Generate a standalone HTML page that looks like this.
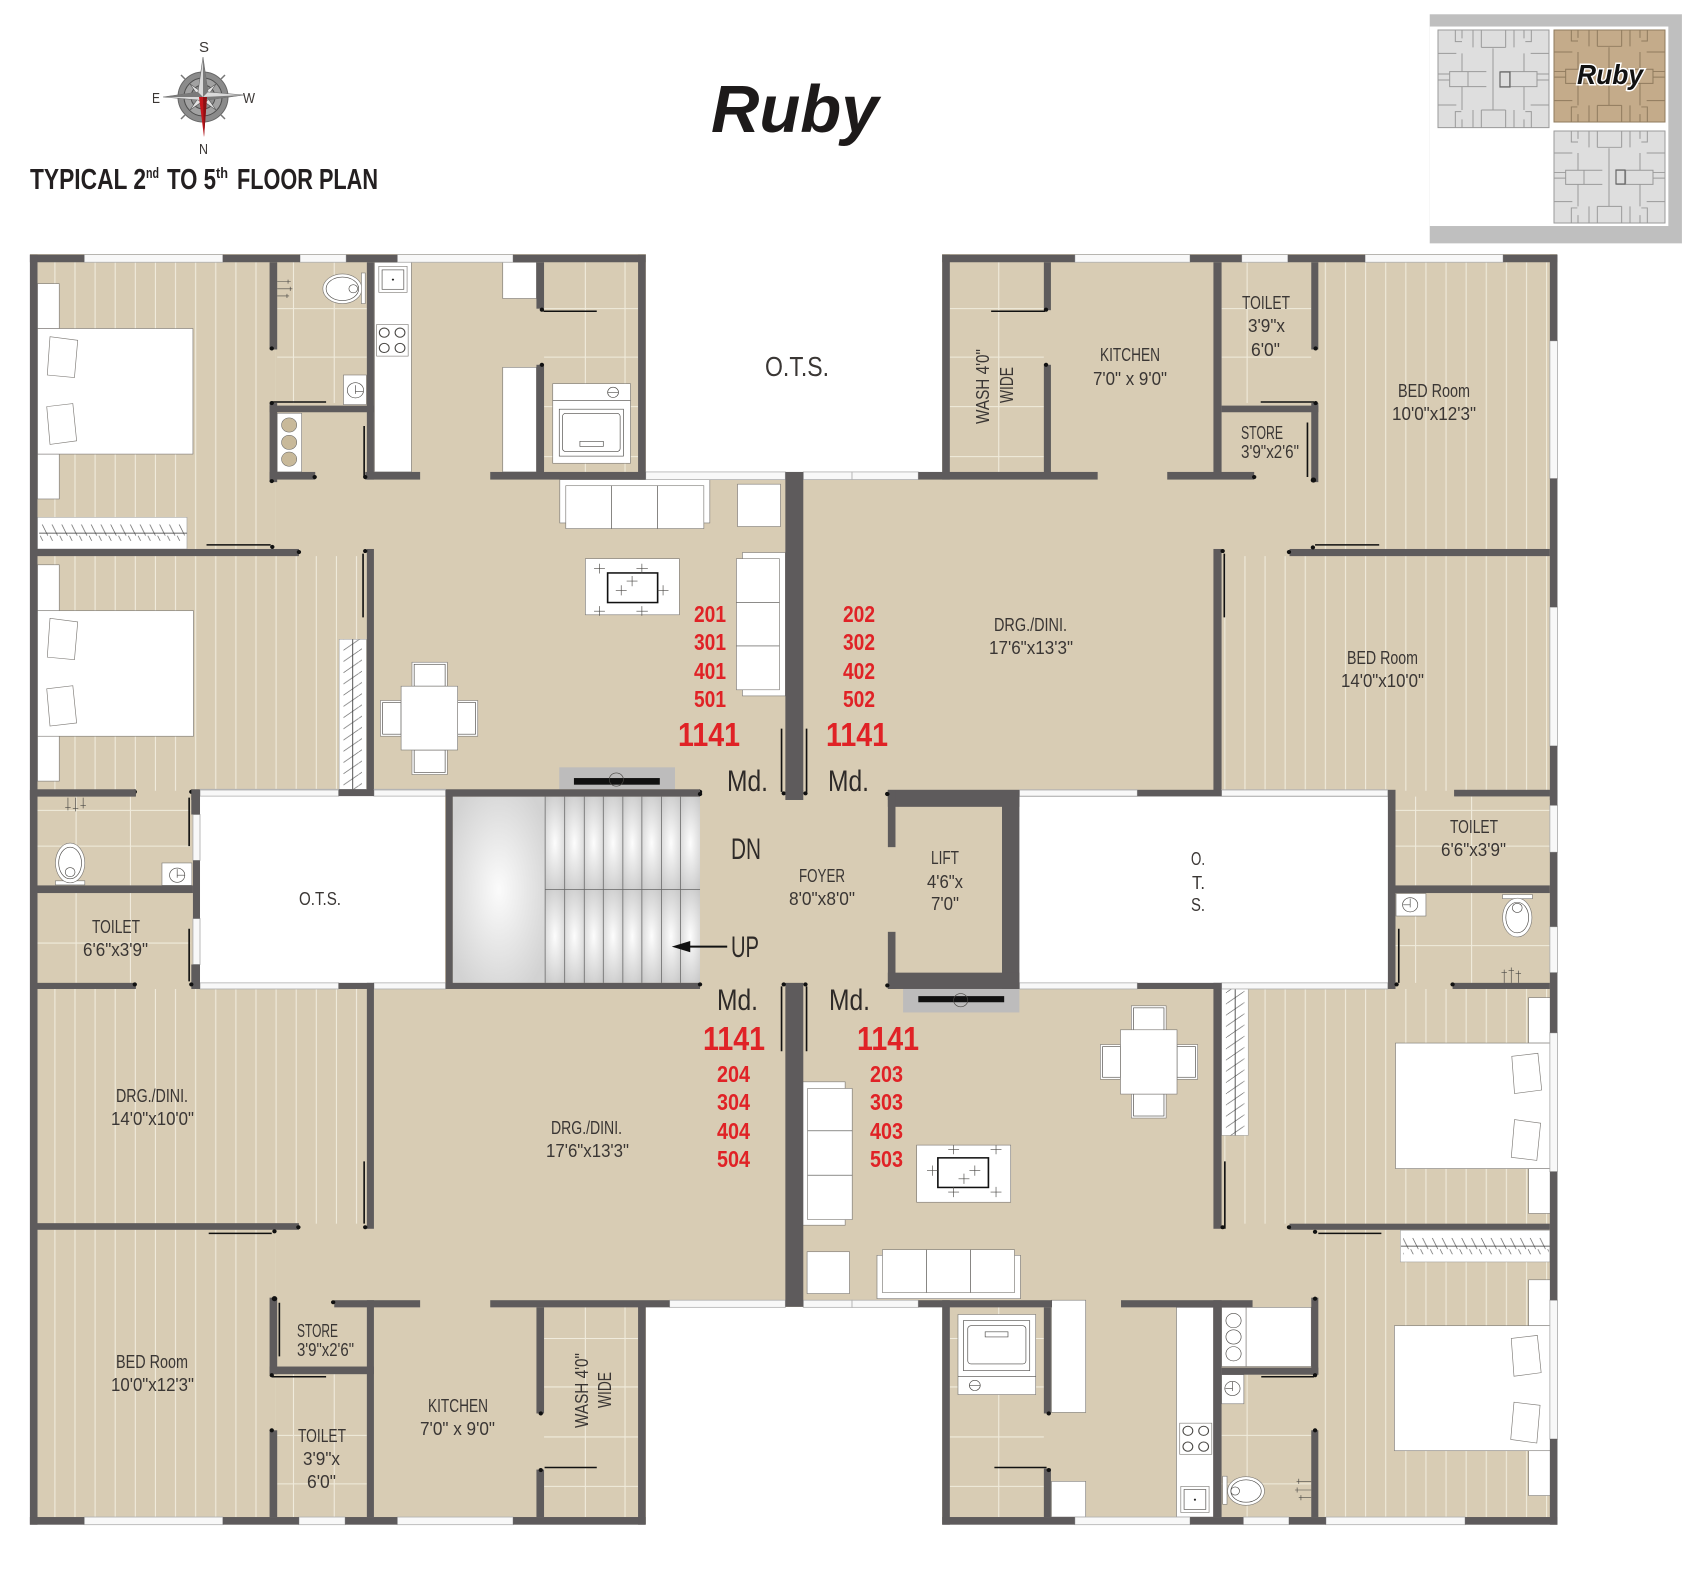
<!DOCTYPE html>
<html><head><meta charset="utf-8"><title>Ruby Floor Plan</title>
<style>
html,body{margin:0;padding:0;background:#fff}
svg{display:block}
text{font-family:"Liberation Sans Narrow","Liberation Sans",sans-serif}
.t{font-size:18.5px;fill:#3a3634}
.r{font-size:23.5px;fill:#e02226;font-weight:bold}
.a{font-size:33px;fill:#e02226;font-weight:bold}
.m{font-size:30px;fill:#2e2a28}
.f{fill:#fff;stroke:#7d7a76;stroke-width:1.2}
.w{fill:#f8f8f8;stroke:#b0b0b0;stroke-width:1.6}
.k{fill:none;stroke:#4a4845;stroke-width:1.2}
.d{stroke:#111;stroke-width:3;fill:none}
.g{stroke:#f0ebdc;stroke-width:2;fill:none}
.wl{fill:#5e5b5c}
.dot{fill:#111}
</style></head><body>
<svg xmlns="http://www.w3.org/2000/svg" width="1704" height="1590" viewBox="0 0 1704 1590">
<defs>
<pattern id="pL" patternUnits="userSpaceOnUse" width="37" height="40"><rect x="26" width="2" height="40" fill="#f0ebdc"/></pattern>
<pattern id="pR" patternUnits="userSpaceOnUse" width="37" height="40"><rect x="19" width="2" height="40" fill="#f0ebdc"/></pattern>
<pattern id="hH" patternUnits="userSpaceOnUse" width="18" height="30"><path d="M2 0L16 30" stroke="#555" stroke-width="1.2"/></pattern>
<pattern id="hV" patternUnits="userSpaceOnUse" width="30" height="22"><path d="M0 22L30 0" stroke="#555" stroke-width="1.2"/></pattern>
<radialGradient id="lg" cx="50%" cy="50%" r="62%"><stop offset="0" stop-color="#fbfbfb"/><stop offset="1" stop-color="#d2d2d2"/></radialGradient>
<radialGradient id="st" cx=".5" cy=".5" r=".5" gradientTransform="translate(.5 .5) scale(1.6 1.2) translate(-.5 -.5)"><stop offset="0" stop-color="#fdfdfd"/><stop offset="1" stop-color="#c8c8c8"/></radialGradient>
<g id="mini" fill="none">
<path d="M165 55V240M130 52H203M130 52V0M203 52V0M105 0V52M228 0V52M130 240H203M130 240V293M203 240V293M105 240V293M228 240V293"/>
<path d="M52 0V35H72M72 35H52M258 0V10M280 0V35H262M52 293V245H70M280 293V245H262"/>
<path d="M72 70V125M72 170V240M258 70V125M258 170V240M0 70H55M278 70H333M0 225H55M278 225H333M72 0V25M258 0V25M72 293V268M258 293V268"/>
<path d="M35 125H90V170H35ZM90 125H145M90 170H145M187 125H297V170H187M215 125V170M297 125V170M0 132H35M0 150H35M297 132H333M297 150H333M0 0H333V293H0Z"/>
</g>
</defs>

<!-- floor -->
<path d="M30 254H646V472H942V254H1557V1524H942V1307H646V1524H30Z" fill="#d8ccb4"/>
<rect x="200" y="796" width="245" height="190" fill="#fff"/>
<rect x="1019" y="796" width="369" height="190" fill="#fff"/>

<!-- TOP LEFT -->
<g transform="scale(.5435 .5102)">
<rect x="69" y="514" width="438" height="562" fill="url(#pL)"/>
<rect x="69" y="1090" width="606" height="460" fill="url(#pL)"/>
<path class="g" d="M1077 514V925M1150 514V925M1001 605H1174M1001 700H1174M1001 797H1174M1001 895H1174M540 514V790M615 514V790M510 605H675M510 700H675"/>
<!-- bed1 -->
<rect class="f" x="69" y="556" width="40" height="88"/><rect class="f" x="69" y="890" width="40" height="88"/>
<rect class="f" x="69" y="644" width="286" height="246"/>
<path class="f" d="M92 660L143 667L137 740L87 735ZM86 797L134 791L141 864L92 871Z"/>
<rect x="69" y="1014" width="275" height="62" fill="#fff" stroke="#999"/><rect x="72" y="1028" width="268" height="32" fill="url(#hH)"/><path d="M72 1045H344" stroke="#333" stroke-width="1.5"/>
<!-- bed2 -->
<rect class="f" x="69" y="1107" width="40" height="90"/><rect class="f" x="69" y="1443" width="40" height="88"/>
<rect class="f" x="69" y="1197" width="287" height="246"/>
<path class="f" d="M92 1212L143 1219L137 1293L87 1288ZM86 1350L134 1344L141 1417L92 1423Z"/>
<rect x="624" y="1253" width="50" height="294" fill="#fff" stroke="#999"/><rect x="632" y="1253" width="34" height="294" fill="url(#hV)"/><path d="M649 1253V1547" stroke="#333" stroke-width="1.5"/>
<!-- toilet/basin -->
<ellipse class="f" cx="630" cy="566" rx="36" ry="29"/><ellipse class="k" cx="630" cy="566" rx="30" ry="23"/><rect class="f" x="665" y="535" width="7" height="60"/><circle class="k" cx="650" cy="566" r="8"/>
<path class="k" d="M510 552H535M530 548V556M510 566H538M534 562V570M510 580H532M528 576V584"/>
<rect class="f" x="632" y="735" width="42" height="58"/><circle class="k" cx="654" cy="765" r="15"/><path class="k" d="M654 755V772M654 767H668"/>
<!-- kitchen -->
<rect class="f" x="689" y="514" width="68" height="411"/>
<rect class="f" x="697" y="522" width="52" height="51"/><rect class="k" x="703" y="529" width="40" height="38"/><circle cx="723" cy="548" r="2" fill="#222"/>
<rect class="f" x="693" y="636" width="58" height="62"/><g class="k" style="stroke-width:2"><circle cx="707" cy="652" r="9"/><circle cx="736" cy="652" r="9"/><circle cx="707" cy="682" r="9"/><circle cx="736" cy="682" r="9"/></g>
<rect class="f" x="925" y="514" width="62" height="71"/><rect class="f" x="925" y="720" width="62" height="205"/>
<rect class="f" x="1017" y="752" width="143" height="156"/><path class="k" d="M1017 785H1160"/><circle class="k" cx="1128" cy="769" r="10"/><path class="k" d="M1118 769H1138"/>
<rect class="k" x="1029" y="802" width="118" height="92"/><rect class="k" x="1035" y="810" width="106" height="75" rx="6" stroke-width="2"/><rect class="k" x="1067" y="865" width="43" height="10"/>
<!-- store -->
<rect class="f" x="510" y="810" width="45" height="115"/><g fill="#c8b99a" stroke="#666"><circle cx="532" cy="833" r="14"/><circle cx="532" cy="867" r="14"/><circle cx="532" cy="900" r="14"/></g>
<!-- sofa -->
<rect class="f" x="1030" y="940" width="276" height="85"/><rect class="f" x="1041" y="952" width="254" height="84"/><path class="k" d="M1125 952V1036M1210 952V1036"/>
<rect class="f" x="1357" y="949" width="79" height="83"/>
<rect class="f" x="1077" y="1095" width="173" height="110"/><rect x="1118" y="1123" width="92" height="58" fill="#fff" stroke="#111" stroke-width="3"/>
<path class="k" d="M1093 1114H1113M1103 1105V1124M1171 1114H1192M1181 1105V1124M1093 1198H1113M1103 1188V1207M1171 1198H1192M1181 1188V1207M1133 1157H1153M1143 1147V1167M1153 1139H1173M1163 1129V1149M1210 1157H1230M1220 1147V1167"/>
<rect class="f" x="1366" y="1083" width="79" height="281"/><rect class="f" x="1355" y="1095" width="79" height="257"/><path class="k" d="M1355 1181H1434M1355 1266H1434"/>
<!-- dining -->
<rect class="f" x="758" y="1298" width="65" height="47"/><rect class="k" x="762" y="1302" width="57" height="43"/><rect class="f" x="758" y="1470" width="65" height="48"/><rect class="k" x="762" y="1470" width="57" height="44"/><rect class="f" x="700" y="1373" width="38" height="70"/><rect class="k" x="704" y="1377" width="34" height="62"/><rect class="f" x="842" y="1373" width="37" height="70"/><rect class="k" x="842" y="1377" width="33" height="62"/><rect class="f" x="738" y="1345" width="104" height="125"/>
<!-- lift door -->
<rect x="1029" y="1504" width="213" height="43" fill="#bdbcbc"/><rect x="1056" y="1525" width="158" height="13" fill="#111"/><circle class="k" cx="1134" cy="1528" r="13"/>
<!-- windows -->
<rect class="w" x="155" y="499" width="255" height="15"/><rect class="w" x="552" y="499" width="85" height="15"/><rect class="w" x="731" y="499" width="213" height="15"/>
<rect class="w" x="1188" y="925" width="257" height="15"/><rect class="w" x="1478" y="925" width="90" height="15"/>
<rect class="w" x="368" y="1547" width="255" height="13"/><rect class="w" x="688" y="1547" width="132" height="13"/>
<!-- walls -->
<g class="wl">
<rect x="55" y="499" width="100" height="15"/><rect x="410" y="499" width="142" height="15"/><rect x="637" y="499" width="94" height="15"/><rect x="944" y="499" width="244" height="15"/>
<rect x="55" y="499" width="14" height="1069"/><rect x="1174" y="499" width="14" height="441"/>
<rect x="496" y="514" width="14" height="171"/><rect x="496" y="790" width="14" height="155"/><rect x="496" y="795" width="192" height="13"/>
<rect x="675" y="514" width="13" height="426"/><rect x="672" y="925" width="101" height="15"/><rect x="496" y="925" width="84" height="15"/>
<rect x="987" y="514" width="14" height="91"/><rect x="987" y="715" width="14" height="215"/><rect x="902" y="925" width="286" height="15"/>
<rect x="69" y="1076" width="481" height="14"/><rect x="675" y="1076" width="13" height="484"/>
<rect x="69" y="1547" width="181" height="13"/><rect x="352" y="1547" width="16" height="21"/><rect x="623" y="1547" width="65" height="13"/><rect x="820" y="1547" width="468" height="13"/>
<rect x="1445" y="925" width="33" height="643"/>
</g>
<path class="d" d="M1000 610H1098M380 1068H498M500 788H600M670 835V935M668 1085V1210M1438 1428V1552M1484 1428V1552"/>
<g class="dot"><circle cx="500" cy="683" r="4"/><circle cx="500" cy="790" r="4"/><circle cx="500" cy="943" r="4"/><circle cx="579" cy="935" r="4"/><circle cx="672" cy="935" r="4"/><circle cx="997" cy="607" r="4"/><circle cx="997" cy="715" r="4"/><circle cx="501" cy="1072" r="4"/><circle cx="550" cy="1082" r="4"/><circle cx="672" cy="1080" r="4"/><circle cx="1288" cy="1552" r="4"/><circle cx="1442" cy="1555" r="4"/><circle cx="1482" cy="1555" r="4"/><circle cx="248" cy="1552" r="4"/><circle cx="352" cy="1552" r="4"/></g>
</g>

<!-- compass -->
<g>
<path d="M181 75L185 79M225 75L221 79M181 119L185 115M225 119L221 115" stroke="#777" stroke-width="1.5"/>
<circle cx="203" cy="97" r="25" fill="#8b8b8b" stroke="#666"/>
<circle cx="203" cy="97" r="19" fill="#a2a2a2" stroke="#4d4d4d"/>
<circle cx="203" cy="97" r="12" fill="#8e8e8e" stroke="#4d4d4d"/>
<path d="M190 84L203 93L216 84L207 97L216 110L203 101L190 110L199 97Z" fill="#e4e4e4" stroke="#555" stroke-width=".6"/>
<path d="M203 57L208 92L244 95L208 100L203 103L198 100L163 97L198 92Z" fill="#dadada" stroke="#666" stroke-width=".6"/>
<path d="M203 57V97L208 92ZM244 95L203 97L208 100ZM163 97H203L198 92Z" fill="#7a7a7a"/>
<path d="M199 97H207L204 137Z" fill="#c4161c"/>
<path d="M203 97H207L204 137Z" fill="#8e1014"/>
</g>

<!-- TOP RIGHT -->
<g transform="translate(852 0) scale(.5435 .5102)">
<rect x="845" y="514" width="439" height="562" fill="url(#pR)"/>
<rect x="680" y="1090" width="604" height="460" fill="url(#pR)"/>
<path class="g" d="M270 514V925M180 605H353M180 700H353M180 797H353M180 895H353M727 514V790M680 605H845M680 700H845"/>
<!-- windows -->
<rect class="w" x="410" y="499" width="212" height="15"/><rect class="w" x="717" y="499" width="85" height="15"/><rect class="w" x="944" y="499" width="254" height="15"/>
<rect class="w" x="1284" y="668" width="14" height="270"/><rect class="w" x="1284" y="1190" width="14" height="272"/>
<rect class="w" x="0" y="925" width="122" height="15"/>
<rect class="w" x="308" y="1548" width="217" height="13"/><rect class="w" x="680" y="1548" width="306" height="13"/>
<g class="wl">
<rect x="166" y="499" width="244" height="15"/><rect x="622" y="499" width="95" height="15"/><rect x="802" y="499" width="142" height="15"/><rect x="1198" y="499" width="100" height="15"/>
<rect x="1284" y="499" width="14" height="169"/><rect x="1284" y="938" width="14" height="252"/><rect x="1284" y="1462" width="14" height="106"/>
<rect x="166" y="499" width="14" height="441"/><rect x="353" y="514" width="13" height="94"/><rect x="353" y="715" width="13" height="215"/>
<rect x="122" y="925" width="330" height="15"/><rect x="580" y="925" width="160" height="15"/>
<rect x="665" y="514" width="15" height="416"/><rect x="680" y="795" width="178" height="13"/>
<rect x="845" y="514" width="13" height="171"/><rect x="845" y="790" width="13" height="155"/>
<rect x="805" y="1076" width="479" height="14"/><rect x="665" y="1076" width="15" height="484"/>
<rect x="66" y="1548" width="242" height="20"/><rect x="525" y="1548" width="155" height="13"/><rect x="986" y="1548" width="14" height="20"/><rect x="1108" y="1548" width="176" height="13"/>
</g>
<path class="d" d="M256 610H355M752 788H850M838 828V935M852 1068H970M685 1085V1210"/>
<g class="dot"><circle cx="357" cy="607" r="4"/><circle cx="357" cy="715" r="4"/><circle cx="853" cy="683" r="4"/><circle cx="853" cy="790" r="4"/><circle cx="849" cy="941" r="5"/><circle cx="740" cy="935" r="4"/><circle cx="804" cy="1082" r="4"/><circle cx="848" cy="1073" r="4"/><circle cx="682" cy="1080" r="4"/><circle cx="65" cy="1556" r="4"/></g>
<!-- key -->
<rect x="1063" y="28" width="464" height="449" fill="#bfbfbf"/><rect x="1063" y="52" width="439" height="391" fill="#fff"/>
</g>
<!-- key plans -->
<rect x="1438" y="30" width="111" height="98" fill="#dedede"/>
<rect x="1554" y="30" width="111" height="92" fill="#c4ab8a"/>
<rect x="1554" y="131" width="111" height="92" fill="#dedede"/>
<use href="#mini" transform="translate(1438 30) scale(.3333 .3333)" stroke="#9a9a9a" stroke-width="3"/>
<use href="#mini" transform="translate(1554 30) scale(.3333 .314)" stroke="#8f7b5e" stroke-width="3"/>
<use href="#mini" transform="translate(1554 131) scale(.3333 .314)" stroke="#9a9a9a" stroke-width="3"/>
<rect x="1500" y="72" width="10" height="15" fill="none" stroke="#666" stroke-width="1.2"/>
<rect x="1616" y="170" width="9" height="14" fill="none" stroke="#666" stroke-width="1.2"/>

<!-- BOTTOM LEFT -->
<g transform="translate(0 790) scale(.5435 .5102)">
<rect x="69" y="390" width="606" height="460" fill="url(#pL)"/>
<rect x="69" y="862" width="438" height="563" fill="url(#pL)"/>
<path class="g" d="M1077 1014V1425M1150 1014V1425M1001 1075H1174M1001 1170H1174M1001 1268H1174M1001 1365H1174M540 1145V1425M615 1145V1425M510 1265H675M510 1360H675M69 40H350M140 13V187M240 13V187M69 110H350M69 300H350M140 202V378M240 202V378"/>
<!-- stairs -->
<rect x="833" y="13" width="170" height="365" fill="url(#lg)"/>
<g fill="url(#st)">
<rect x="1003" y="13" width="36" height="182"/><rect x="1039" y="13" width="36" height="182"/><rect x="1075" y="13" width="35" height="182"/><rect x="1110" y="13" width="36" height="182"/><rect x="1146" y="13" width="35" height="182"/><rect x="1181" y="13" width="36" height="182"/><rect x="1217" y="13" width="35" height="182"/><rect x="1252" y="13" width="36" height="182"/>
<rect x="1003" y="195" width="36" height="183"/><rect x="1039" y="195" width="36" height="183"/><rect x="1075" y="195" width="35" height="183"/><rect x="1110" y="195" width="36" height="183"/><rect x="1146" y="195" width="35" height="183"/><rect x="1181" y="195" width="36" height="183"/><rect x="1217" y="195" width="35" height="183"/><rect x="1252" y="195" width="36" height="183"/>
</g>
<path d="M1003 13V378M1039 13V378M1075 13V378M1110 13V378M1146 13V378M1181 13V378M1217 13V378M1252 13V378M1003 195H1288" stroke="#666" stroke-width="1.4" fill="none"/>
<path d="M1338 307H1262" stroke="#111" stroke-width="4"/><path d="M1236 307L1270 296V318Z" fill="#111"/>
<!-- fixtures -->
<rect class="f" x="102" y="178" width="54" height="8"/><ellipse class="f" cx="129" cy="143" rx="27" ry="39"/><ellipse class="k" cx="129" cy="143" rx="21" ry="31"/><circle class="k" cx="129" cy="161" r="9"/>
<path class="k" d="M125 15V40M120 34H130M139 15V42M134 36H144M153 15V36M148 30H158"/>
<rect class="f" x="298" y="143" width="55" height="44"/><circle class="k" cx="326" cy="167" r="14"/><path class="k" d="M326 155V172M326 167H340"/>
<!-- windows -->
<rect class="w" x="355" y="48" width="13" height="90"/><rect class="w" x="355" y="252" width="13" height="90"/>
<rect class="w" x="368" y="378" width="255" height="12"/><rect class="w" x="688" y="378" width="132" height="12"/>
<rect class="w" x="368" y="0" width="255" height="12"/><rect class="w" x="688" y="0" width="132" height="12"/>
<rect class="w" x="155" y="1425" width="255" height="15"/><rect class="w" x="550" y="1425" width="85" height="15"/><rect class="w" x="731" y="1425" width="213" height="15"/>
<rect class="w" x="1232" y="1000" width="213" height="14"/><rect class="w" x="1478" y="1000" width="90" height="14"/>
<!-- sofa + table -->
<rect class="f" x="1477" y="572" width="78" height="281"/><rect class="f" x="1486" y="585" width="82" height="257"/><path class="k" d="M1486 668H1568M1486 755H1568"/>
<rect class="f" x="1485" y="905" width="78" height="82"/>
<g class="wl">
<rect x="55" y="0" width="14" height="1440"/><rect x="69" y="0" width="181" height="13"/><rect x="352" y="0" width="16" height="48"/><rect x="355" y="138" width="13" height="114"/><rect x="352" y="342" width="16" height="48"/>
<rect x="623" y="0" width="65" height="12"/>
<rect x="69" y="187" width="286" height="15"/><rect x="69" y="378" width="181" height="12"/>
<rect x="623" y="378" width="65" height="12"/><rect x="675" y="378" width="13" height="482"/>
<rect x="820" y="0" width="13" height="390"/><rect x="820" y="0" width="468" height="13"/><rect x="820" y="378" width="468" height="12"/>
<rect x="1445" y="378" width="33" height="635"/><rect x="1445" y="0" width="33" height="8"/>
<rect x="69" y="849" width="481" height="13"/>
<rect x="55" y="1425" width="100" height="15"/><rect x="410" y="1425" width="140" height="15"/><rect x="635" y="1425" width="96" height="15"/><rect x="944" y="1425" width="244" height="15"/>
<rect x="1174" y="1013" width="14" height="427"/><rect x="615" y="1000" width="158" height="14"/><rect x="902" y="1000" width="330" height="14"/>
<rect x="675" y="1000" width="13" height="425"/><rect x="987" y="1014" width="14" height="208"/><rect x="987" y="1332" width="14" height="93"/>
<rect x="496" y="1130" width="192" height="15"/><rect x="496" y="995" width="14" height="150"/><rect x="496" y="1255" width="14" height="170"/>
</g>
<path class="d" d="M670 728V850M384 869H500M514 1005V1110M500 1150H600M1002 1328H1098M1438 385V512M1484 385V512M348 15V110M348 272V375"/>
<g class="dot"><circle cx="248" cy="381" r="4"/><circle cx="352" cy="381" r="4"/><circle cx="1288" cy="381" r="4"/><circle cx="1442" cy="381" r="4"/><circle cx="1482" cy="381" r="4"/><circle cx="672" cy="857" r="4"/><circle cx="549" cy="857" r="4"/><circle cx="505" cy="865" r="4"/><circle cx="505" cy="997" r="5"/><circle cx="613" cy="1004" r="4"/><circle cx="500" cy="1147" r="4"/><circle cx="500" cy="1255" r="4"/><circle cx="995" cy="1222" r="4"/><circle cx="995" cy="1333" r="4"/><circle cx="1288" cy="8" r="4"/></g>
</g>

<!-- BOTTOM RIGHT -->
<g transform="translate(852 790) scale(.5435 .5102)">
<rect x="680" y="390" width="604" height="460" fill="url(#pR)"/>
<rect x="845" y="862" width="439" height="563" fill="url(#pR)"/>
<path class="g" d="M1037 13V187M1140 13V187M1000 40H1284M1000 110H1284M1037 202V378M1140 202V378M1000 305H1284M270 1014V1425M180 1075H353M180 1170H353M180 1268H353M180 1365H353M727 1146V1425M680 1265H845M680 1360H845"/>
<!-- furniture -->
<rect x="94" y="390" width="214" height="46" fill="#bdbcbc"/><rect x="122" y="404" width="158" height="12" fill="#111"/><circle class="k" cx="200" cy="412" r="13"/>
<rect class="f" x="514" y="423" width="64" height="47"/><rect class="k" x="518" y="427" width="56" height="43"/><rect class="f" x="514" y="596" width="64" height="47"/><rect class="k" x="518" y="596" width="56" height="43"/><rect class="f" x="457" y="499" width="37" height="68"/><rect class="k" x="461" y="503" width="33" height="60"/><rect class="f" x="598" y="499" width="38" height="68"/><rect class="k" x="598" y="503" width="34" height="60"/><rect class="f" x="494" y="470" width="104" height="126"/>
<rect class="f" x="119" y="696" width="173" height="112"/><rect x="158" y="721" width="93" height="58" fill="#fff" stroke="#111" stroke-width="3"/>
<path class="k" d="M177 705H197M187 696V714M255 705H275M265 696V714M177 788H197M187 778V798M255 788H275M265 778V798M138 746H158M148 736V756M196 762H216M206 752V772M216 746H236M226 736V756"/>
<rect class="f" x="46" y="912" width="264" height="85"/><rect class="f" x="56" y="901" width="243" height="84"/><path class="k" d="M137 901V985M218 901V985"/>
<rect x="680" y="385" width="49" height="292" fill="#fff" stroke="#999"/><rect x="688" y="385" width="34" height="292" fill="url(#hV)"/><path d="M705 385V677" stroke="#333" stroke-width="1.5"/>
<rect class="f" x="1245" y="407" width="40" height="89"/><rect class="f" x="1245" y="742" width="40" height="88"/><rect class="f" x="1000" y="496" width="285" height="246"/>
<path class="f" d="M1214 522L1262 516L1269 588L1219 595ZM1219 646L1267 653L1260 726L1213 720Z"/>
<rect x="1009" y="863" width="275" height="62" fill="#fff" stroke="#999"/><rect x="1014" y="878" width="268" height="32" fill="url(#hH)"/><path d="M1010 894H1284" stroke="#333" stroke-width="1.5"/>
<rect class="f" x="1245" y="960" width="40" height="90"/><rect class="f" x="1245" y="1295" width="40" height="88"/><rect class="f" x="998" y="1050" width="287" height="245"/>
<path class="f" d="M1213 1075L1261 1069L1268 1142L1218 1149ZM1218 1200L1266 1206L1260 1280L1212 1273Z"/>
<rect class="f" x="725" y="1014" width="120" height="116"/><rect class="f" x="680" y="1014" width="45" height="116"/><circle class="k" cx="702" cy="1040" r="14"/><circle class="k" cx="702" cy="1072" r="14"/><circle class="k" cx="702" cy="1105" r="14"/>
<rect class="f" x="680" y="1146" width="41" height="57"/><circle class="k" cx="700" cy="1173" r="14"/><path class="k" d="M700 1160V1178M687 1173H700"/>
<rect class="f" x="597" y="1014" width="68" height="411"/><rect class="f" x="603" y="1241" width="59" height="61"/><g class="k" style="stroke-width:2"><circle cx="618" cy="1256" r="9"/><circle cx="647" cy="1256" r="9"/><circle cx="618" cy="1287" r="9"/><circle cx="647" cy="1287" r="9"/></g>
<rect class="f" x="605" y="1365" width="52" height="51"/><rect class="k" x="611" y="1371" width="40" height="39"/><circle cx="631" cy="1391" r="2" fill="#222"/>
<ellipse class="f" cx="725" cy="1374" rx="34" ry="28"/><ellipse class="k" cx="725" cy="1374" rx="28" ry="22"/><rect class="f" x="682" y="1345" width="8" height="55"/><circle class="k" cx="705" cy="1374" r="8"/>
<path class="k" d="M818 1355H845M822 1350V1360M815 1372H845M819 1367V1377M822 1387H845M826 1382V1392"/>
<rect class="f" x="367" y="1355" width="63" height="70"/><rect class="f" x="367" y="1000" width="63" height="220"/>
<rect class="f" x="195" y="1028" width="143" height="157"/><path class="k" d="M195 1150H338"/><circle class="k" cx="226" cy="1167" r="10"/><path class="k" d="M216 1167H236"/>
<rect class="k" x="205" y="1040" width="122" height="98"/><rect class="k" x="213" y="1050" width="107" height="75" rx="6" stroke-width="2"/><rect class="k" x="245" y="1062" width="42" height="10"/>
<rect class="f" x="1001" y="203" width="55" height="44"/><circle class="k" cx="1027" cy="225" r="14"/><path class="k" d="M1027 213V230M1014 225H1027"/>
<rect class="f" x="1197" y="205" width="55" height="8"/><ellipse class="f" cx="1224" cy="250" rx="27" ry="38"/><ellipse class="k" cx="1224" cy="250" rx="21" ry="30"/><circle class="k" cx="1224" cy="231" r="9"/>
<path class="k" d="M1200 352V378M1195 358H1205M1213 348V378M1208 354H1218M1226 354V378M1221 360H1231"/>
<!-- windows -->
<rect class="w" x="308" y="378" width="217" height="12"/><rect class="w" x="680" y="378" width="306" height="12"/>
<rect class="w" x="308" y="0" width="217" height="12"/><rect class="w" x="680" y="0" width="306" height="12"/>
<rect class="w" x="1284" y="30" width="14" height="92"/><rect class="w" x="1284" y="268" width="14" height="90"/><rect class="w" x="1284" y="476" width="14" height="272"/><rect class="w" x="1284" y="1000" width="14" height="272"/>
<rect class="w" x="410" y="1425" width="212" height="15"/><rect class="w" x="720" y="1425" width="84" height="15"/><rect class="w" x="872" y="1425" width="256" height="15"/>
<rect class="w" x="0" y="1000" width="122" height="14"/>
<g class="wl">
<rect x="66" y="0" width="242" height="33"/><rect x="66" y="0" width="14" height="112"/><rect x="66" y="278" width="14" height="112"/><rect x="276" y="0" width="32" height="390"/><rect x="66" y="358" width="242" height="32"/>
<rect x="525" y="0" width="155" height="12"/><rect x="525" y="378" width="155" height="12"/><rect x="665" y="378" width="15" height="482"/>
<rect x="986" y="0" width="14" height="390"/><rect x="1108" y="0" width="176" height="12"/><rect x="1000" y="187" width="284" height="15"/><rect x="1105" y="378" width="179" height="12"/>
<rect x="1284" y="0" width="14" height="30"/><rect x="1284" y="122" width="14" height="146"/><rect x="1284" y="358" width="14" height="118"/><rect x="1284" y="748" width="14" height="252"/><rect x="1284" y="1272" width="14" height="168"/>
<rect x="805" y="850" width="479" height="12"/>
<rect x="166" y="1425" width="244" height="15"/><rect x="622" y="1425" width="98" height="15"/><rect x="804" y="1425" width="68" height="15"/><rect x="1128" y="1425" width="170" height="15"/>
<rect x="166" y="1000" width="14" height="440"/><rect x="122" y="1000" width="246" height="14"/><rect x="353" y="1014" width="13" height="208"/><rect x="353" y="1330" width="13" height="95"/>
<rect x="495" y="1000" width="242" height="14"/><rect x="665" y="1000" width="15" height="425"/><rect x="680" y="1132" width="178" height="14"/><rect x="845" y="995" width="13" height="151"/><rect x="845" y="1255" width="13" height="170"/>
</g>
<path class="d" d="M686 728V860M1006 272V378M858 869H974M753 1150H850M262 1328H358"/>
<g class="dot"><circle cx="65" cy="383" r="4"/><circle cx="682" cy="857" r="4"/><circle cx="804" cy="857" r="4"/><circle cx="852" cy="866" r="4"/><circle cx="852" cy="997" r="4"/><circle cx="852" cy="1147" r="4"/><circle cx="852" cy="1255" r="4"/><circle cx="362" cy="1222" r="4"/><circle cx="362" cy="1333" r="4"/><circle cx="1002" cy="381" r="4"/><circle cx="1105" cy="381" r="4"/><circle cx="65" cy="8" r="4"/></g>
</g>

<!-- TEXT -->
<g class="t" style="font-size:15px">
<text x="199" y="52" textLength="10" lengthAdjust="spacingAndGlyphs">S</text>
<text x="152" y="103" textLength="8" lengthAdjust="spacingAndGlyphs">E</text>
<text x="243" y="103" textLength="12" lengthAdjust="spacingAndGlyphs">W</text>
<text x="199" y="154" textLength="9" lengthAdjust="spacingAndGlyphs">N</text>
</g>
<g font-weight="bold" fill="#231f20">
<text x="30" y="189" font-size="29" textLength="116" lengthAdjust="spacingAndGlyphs">TYPICAL 2</text>
<text x="146" y="178" font-size="15" textLength="13" lengthAdjust="spacingAndGlyphs">nd</text>
<text x="167" y="189" font-size="29" textLength="49" lengthAdjust="spacingAndGlyphs">TO 5</text>
<text x="216" y="178" font-size="15" textLength="12" lengthAdjust="spacingAndGlyphs">th</text>
<text x="237" y="189" font-size="29" textLength="141" lengthAdjust="spacingAndGlyphs">FLOOR PLAN</text>
</g>
<text x="711" y="132" font-size="67" font-weight="bold" font-style="italic" fill="#1d1a1a" style='font-family:"Liberation Sans",sans-serif'>Ruby</text>
<text x="1577" y="84" font-size="28" font-weight="bold" font-style="italic" fill="#111" stroke="#fff" stroke-width="3" paint-order="stroke" textLength="66" lengthAdjust="spacingAndGlyphs" style='font-family:"Liberation Sans",sans-serif'>Ruby</text>

<g class="t" style="fill:#3a3634">
<text x="765" y="376" style="font-size:28px" textLength="64" lengthAdjust="spacingAndGlyphs">O.T.S.</text>
<text x="1100" y="361" textLength="60" lengthAdjust="spacingAndGlyphs">KITCHEN</text>
<text x="1093" y="385" textLength="74" lengthAdjust="spacingAndGlyphs">7'0" x 9'0"</text>
<text x="1242" y="309" textLength="48" lengthAdjust="spacingAndGlyphs">TOILET</text>
<text x="1248" y="332" textLength="37" lengthAdjust="spacingAndGlyphs">3'9"x</text>
<text x="1251" y="356" textLength="29" lengthAdjust="spacingAndGlyphs">6'0"</text>
<text x="1241" y="439" textLength="42" lengthAdjust="spacingAndGlyphs">STORE</text>
<text x="1241" y="458" textLength="58" lengthAdjust="spacingAndGlyphs">3'9"x2'6"</text>
<text x="1398" y="397" textLength="72" lengthAdjust="spacingAndGlyphs">BED Room</text>
<text x="1392" y="420" textLength="84" lengthAdjust="spacingAndGlyphs">10'0"x12'3"</text>
<text x="1347" y="664" textLength="71" lengthAdjust="spacingAndGlyphs">BED Room</text>
<text x="1341" y="687" textLength="83" lengthAdjust="spacingAndGlyphs">14'0"x10'0"</text>
<text x="994" y="631" textLength="73" lengthAdjust="spacingAndGlyphs">DRG./DINI.</text>
<text x="989" y="654" textLength="84" lengthAdjust="spacingAndGlyphs">17'6"x13'3"</text>
<text transform="translate(989 424) rotate(-90)" textLength="75" lengthAdjust="spacingAndGlyphs">WASH 4'0"</text>
<text transform="translate(1013 403) rotate(-90)" textLength="36" lengthAdjust="spacingAndGlyphs">WIDE</text>
<text x="299" y="905" textLength="42" lengthAdjust="spacingAndGlyphs">O.T.S.</text>
<text x="92" y="933" textLength="48" lengthAdjust="spacingAndGlyphs">TOILET</text>
<text x="83" y="956" textLength="65" lengthAdjust="spacingAndGlyphs">6'6"x3'9"</text>
<text x="116" y="1102" textLength="72" lengthAdjust="spacingAndGlyphs">DRG./DINI.</text>
<text x="111" y="1125" textLength="83" lengthAdjust="spacingAndGlyphs">14'0"x10'0"</text>
<text x="551" y="1134" textLength="71" lengthAdjust="spacingAndGlyphs">DRG./DINI.</text>
<text x="546" y="1157" textLength="83" lengthAdjust="spacingAndGlyphs">17'6"x13'3"</text>
<text x="116" y="1368" textLength="72" lengthAdjust="spacingAndGlyphs">BED Room</text>
<text x="111" y="1391" textLength="83" lengthAdjust="spacingAndGlyphs">10'0"x12'3"</text>
<text x="297" y="1337" textLength="41" lengthAdjust="spacingAndGlyphs">STORE</text>
<text x="297" y="1356" textLength="57" lengthAdjust="spacingAndGlyphs">3'9"x2'6"</text>
<text x="298" y="1442" textLength="48" lengthAdjust="spacingAndGlyphs">TOILET</text>
<text x="303" y="1465" textLength="37" lengthAdjust="spacingAndGlyphs">3'9"x</text>
<text x="307" y="1488" textLength="29" lengthAdjust="spacingAndGlyphs">6'0"</text>
<text x="428" y="1412" textLength="60" lengthAdjust="spacingAndGlyphs">KITCHEN</text>
<text x="420" y="1435" textLength="75" lengthAdjust="spacingAndGlyphs">7'0" x 9'0"</text>
<text transform="translate(588 1428) rotate(-90)" textLength="75" lengthAdjust="spacingAndGlyphs">WASH 4'0"</text>
<text transform="translate(611 1408) rotate(-90)" textLength="36" lengthAdjust="spacingAndGlyphs">WIDE</text>
<text x="799" y="882" textLength="46" lengthAdjust="spacingAndGlyphs">FOYER</text>
<text x="789" y="905" textLength="66" lengthAdjust="spacingAndGlyphs">8'0"x8'0"</text>
<text x="931" y="864" textLength="28" lengthAdjust="spacingAndGlyphs">LIFT</text>
<text x="927" y="888" textLength="36" lengthAdjust="spacingAndGlyphs">4'6"x</text>
<text x="931" y="910" textLength="28" lengthAdjust="spacingAndGlyphs">7'0"</text>
<text x="1191" y="865" textLength="14" lengthAdjust="spacingAndGlyphs">O.</text>
<text x="1192" y="889" textLength="13" lengthAdjust="spacingAndGlyphs">T.</text>
<text x="1191" y="911" textLength="14" lengthAdjust="spacingAndGlyphs">S.</text>
<text x="1450" y="833" textLength="48" lengthAdjust="spacingAndGlyphs">TOILET</text>
<text x="1441" y="856" textLength="65" lengthAdjust="spacingAndGlyphs">6'6"x3'9"</text>
</g>

<g class="m">
<text x="727" y="791" textLength="41" lengthAdjust="spacingAndGlyphs">Md.</text>
<text x="828" y="791" textLength="41" lengthAdjust="spacingAndGlyphs">Md.</text>
<text x="717" y="1010" textLength="41" lengthAdjust="spacingAndGlyphs">Md.</text>
<text x="829" y="1010" textLength="41" lengthAdjust="spacingAndGlyphs">Md.</text>
<text x="731" y="859" textLength="30" lengthAdjust="spacingAndGlyphs">DN</text>
<text x="731" y="957" textLength="28" lengthAdjust="spacingAndGlyphs">UP</text>
</g>

<g class="r">
<text x="694" y="622" textLength="32" lengthAdjust="spacingAndGlyphs">201</text><text x="694" y="650" textLength="32" lengthAdjust="spacingAndGlyphs">301</text><text x="694" y="679" textLength="32" lengthAdjust="spacingAndGlyphs">401</text><text x="694" y="707" textLength="32" lengthAdjust="spacingAndGlyphs">501</text>
<text x="843" y="622" textLength="32" lengthAdjust="spacingAndGlyphs">202</text><text x="843" y="650" textLength="32" lengthAdjust="spacingAndGlyphs">302</text><text x="843" y="679" textLength="32" lengthAdjust="spacingAndGlyphs">402</text><text x="843" y="707" textLength="32" lengthAdjust="spacingAndGlyphs">502</text>
<text x="717" y="1082" textLength="33" lengthAdjust="spacingAndGlyphs">204</text><text x="717" y="1110" textLength="33" lengthAdjust="spacingAndGlyphs">304</text><text x="717" y="1139" textLength="33" lengthAdjust="spacingAndGlyphs">404</text><text x="717" y="1167" textLength="33" lengthAdjust="spacingAndGlyphs">504</text>
<text x="870" y="1082" textLength="33" lengthAdjust="spacingAndGlyphs">203</text><text x="870" y="1110" textLength="33" lengthAdjust="spacingAndGlyphs">303</text><text x="870" y="1139" textLength="33" lengthAdjust="spacingAndGlyphs">403</text><text x="870" y="1167" textLength="33" lengthAdjust="spacingAndGlyphs">503</text>
</g>
<g class="a">
<text x="678" y="746" textLength="62" lengthAdjust="spacingAndGlyphs">1141</text>
<text x="826" y="746" textLength="62" lengthAdjust="spacingAndGlyphs">1141</text>
<text x="703" y="1050" textLength="62" lengthAdjust="spacingAndGlyphs">1141</text>
<text x="857" y="1050" textLength="62" lengthAdjust="spacingAndGlyphs">1141</text>
</g>
</svg>
</body></html>
